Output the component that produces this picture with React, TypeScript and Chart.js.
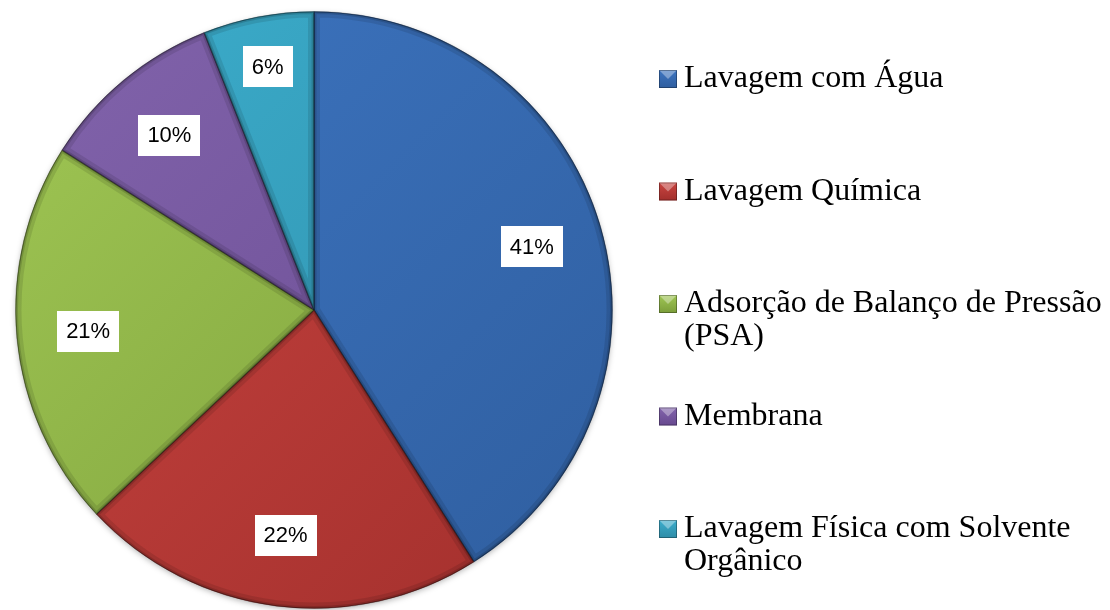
import React, { useEffect, useRef } from "react";
import { Chart, registerables } from "chart.js";

Chart.register(...registerables);

const categories = [
  "Lavagem com Água",
  "Lavagem Química",
  "Adsorção de Balanço de Pressão (PSA)",
  "Membrana",
  "Lavagem Física com Solvente Orgânico",
];
const shares = [41, 22, 21, 10, 6];
const percentLabels = ["41%", "22%", "21%", "10%", "6%"];

const sliceLight = ["#3D75C1", "#CA4541", "#A0C754", "#8264AC", "#3CAECD"];
const sliceDark = ["#2F5E9F", "#A22F2C", "#7B9D3A", "#67498F", "#2E8CA7"];

const bevelPlugin = {
  id: "bevel",
  beforeDatasetsDraw(chart: any) {
    const meta = chart.getDatasetMeta(0);
    if (!meta.data.length) return;
    const a = meta.data[0];
    const { x, y, outerRadius } = a.getProps(["x", "y", "outerRadius"], true);
    const ctx = chart.ctx;
    ctx.save();
    ctx.shadowColor = "rgba(0,0,0,0.35)";
    ctx.shadowBlur = 6;
    ctx.shadowOffsetY = 2;
    ctx.beginPath();
    ctx.arc(x, y, outerRadius - 1, 0, Math.PI * 2);
    ctx.fillStyle = "#777";
    ctx.fill();
    ctx.restore();
  },
  afterDatasetsDraw(chart: any) {
    const meta = chart.getDatasetMeta(0);
    const ctx = chart.ctx;
    meta.data.forEach((arc: any) => {
      const { x, y, startAngle, endAngle, outerRadius } = arc.getProps(
        ["x", "y", "startAngle", "endAngle", "outerRadius"],
        true
      );
      ctx.save();
      ctx.beginPath();
      ctx.moveTo(x, y);
      ctx.arc(x, y, outerRadius, startAngle, endAngle);
      ctx.closePath();
      ctx.clip();
      ctx.lineJoin = "round";
      ctx.strokeStyle = "rgba(0,0,0,0.10)";
      ctx.lineWidth = 12;
      ctx.stroke();
      ctx.strokeStyle = "rgba(0,0,0,0.14)";
      ctx.lineWidth = 5;
      ctx.stroke();
      ctx.strokeStyle = "rgba(0,0,0,0.25)";
      ctx.lineWidth = 2;
      ctx.stroke();
      ctx.restore();
    });
  },
};

const labelPlugin = {
  id: "boxLabels",
  afterDatasetsDraw(chart: any) {
    const meta = chart.getDatasetMeta(0);
    const ctx = chart.ctx;
    ctx.save();
    ctx.font = "22px 'Liberation Sans', Arial, sans-serif";
    ctx.textAlign = "center";
    ctx.textBaseline = "middle";
    meta.data.forEach((arc: any, i: number) => {
      const { x, y, startAngle, endAngle, outerRadius } = arc.getProps(
        ["x", "y", "startAngle", "endAngle", "outerRadius"],
        true
      );
      const mid = (startAngle + endAngle) / 2;
      const span = endAngle - startAngle;
      const f = span < 0.6 ? 0.83 : 0.76;
      const cx = x + Math.cos(mid) * outerRadius * f;
      const cy = y + Math.sin(mid) * outerRadius * f;
      const text = percentLabels[i];
      const w = ctx.measureText(text).width + 18;
      const h = 41;
      ctx.fillStyle = "#FFFFFF";
      ctx.fillRect(Math.round(cx - w / 2), Math.round(cy - h / 2), Math.round(w), h);
      ctx.fillStyle = "#000000";
      ctx.fillText(text, cx, cy + 1);
    });
    ctx.restore();
  },
};

function wrapText(ctx: CanvasRenderingContext2D, text: string, maxW: number): string[] {
  const words = text.split(" ");
  const lines: string[] = [];
  let cur = "";
  for (const w of words) {
    const test = cur ? cur + " " + w : w;
    if (ctx.measureText(test).width > maxW && cur) {
      lines.push(cur);
      cur = w;
    } else {
      cur = test;
    }
  }
  if (cur) lines.push(cur);
  return lines;
}

const legendPlugin = {
  id: "sideLegend",
  afterDraw(chart: any) {
    const ctx = chart.ctx;
    const labels: string[] = chart.data.labels;
    ctx.save();
    ctx.font = "32px 'Liberation Serif', 'Times New Roman', serif";
    ctx.textAlign = "left";
    ctx.textBaseline = "alphabetic";
    const markerX = 659;
    const textX = 684;
    const firstBaseline = 87;
    const step = 112.5;
    const lineH = 33;
    labels.forEach((lab, i) => {
      const base = firstBaseline + i * step;
      const s = 18;
      const mx = markerX;
      const my = base - 17;
      const g = ctx.createLinearGradient(mx, my, mx, my + s);
      g.addColorStop(0, sliceLight[i]);
      g.addColorStop(1, sliceDark[i]);
      ctx.fillStyle = g;
      ctx.fillRect(mx, my, s, s);
      ctx.fillStyle = "rgba(255,255,255,0.35)";
      ctx.beginPath();
      ctx.moveTo(mx, my);
      ctx.lineTo(mx + s, my);
      ctx.lineTo(mx + s / 2, my + s / 2);
      ctx.closePath();
      ctx.fill();
      ctx.strokeStyle = "rgba(0,0,0,0.3)";
      ctx.lineWidth = 1;
      ctx.strokeRect(mx + 0.5, my + 0.5, s - 1, s - 1);
      ctx.fillStyle = "#000000";
      const lines = wrapText(ctx, lab, 1110 - textX);
      lines.forEach((ln, j) => ctx.fillText(ln, textX, base + j * lineH));
    });
    ctx.restore();
  },
};

export default function App() {
  const ref = useRef<HTMLCanvasElement>(null);
  useEffect(() => {
    if (!ref.current) return;
    const chart = new Chart(ref.current, {
      type: "pie",
      data: {
        labels: categories,
        datasets: [
          {
            data: shares,
            backgroundColor: (c: any) => {
              const i = c.dataIndex;
              const area = c.chart.chartArea;
              if (!area) return sliceLight[i];
              const g = c.chart.ctx.createLinearGradient(area.left, area.top, area.right, area.bottom);
              g.addColorStop(0, sliceLight[i]);
              g.addColorStop(1, sliceDark[i]);
              return g;
            },
            borderColor: "rgba(0,0,0,0.25)",
            borderWidth: 1,
          },
        ],
      },
      options: {
        responsive: false,
        animation: false,
        devicePixelRatio: 1,
        layout: { padding: { left: 15, right: 497, top: 11, bottom: 1 } },
        plugins: {
          legend: { display: false },
          tooltip: { enabled: false },
        },
      },
      plugins: [bevelPlugin, labelPlugin, legendPlugin],
    });
    return () => chart.destroy();
  }, []);
  return (
    <div style={{ position: "absolute", left: 0, top: 0, width: 1110, height: 610, background: "#fff" }}>
      <canvas ref={ref} width={1110} height={610} style={{ display: "block" }} />
    </div>
  );
}
